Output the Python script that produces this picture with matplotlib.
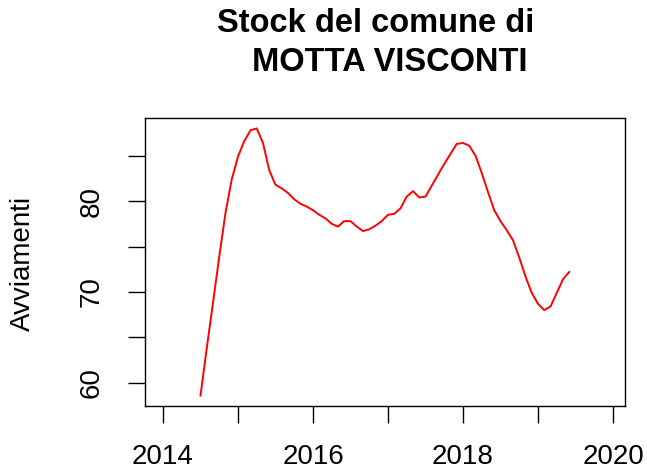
import numpy as np
from matplotlib import pyplot as plt

plt.rcParams['font.family'] = ['Liberation Sans', 'DejaVu Sans']

# monthly values, July 2014 -> June 2019
start_year = 2014.5
stock = [58.6, 63.8, 68.8, 73.9, 78.7, 82.4, 84.9, 86.6, 87.8, 88.0,
         86.4, 83.4, 81.8, 81.4, 80.9, 80.2, 79.7, 79.4, 79.0, 78.5,
         78.1, 77.5, 77.2, 77.8, 77.8, 77.2, 76.7, 76.9, 77.3, 77.8,
         78.5, 78.6, 79.2, 80.5, 81.1, 80.4, 80.5, 81.7, 82.9, 84.1,
         85.2, 86.3, 86.4, 86.1, 85.0, 83.1, 81.0, 79.0, 77.8, 76.8,
         75.7, 73.8, 71.7, 69.9, 68.7, 68.0, 68.4, 69.9, 71.4, 72.2]
years = start_year + np.arange(len(stock)) / 12

x_ticks = [2014, 2015, 2016, 2017, 2018, 2019, 2020]
x_labels = ['2014', '', '2016', '', '2018', '', '2020']
y_ticks = [60, 65, 70, 75, 80, 85]
y_labels = ['60', '', '70', '', '80', '']

fig = plt.figure(figsize=(6.47, 4.71), dpi=100)
ax = fig.add_axes([145 / 647, 1 - 406 / 471, 480 / 647, 288 / 471])

ax.plot(years, stock, color='red', lw=1.4)

ax.set_xlim(2013.76, 2020.16)
ax.set_ylim(57.45, 89.15)
ax.set_xticks(x_ticks)
ax.set_xticklabels(x_labels)
ax.set_yticks(y_ticks)
ax.set_yticklabels(y_labels, rotation=90, va='center')
ax.tick_params(axis='both', labelsize=20, length=12, width=1, pad=15,
               direction='out', colors='black')
ax.tick_params(axis='y', pad=17)
for s in ax.spines.values():
    s.set_linewidth(1)

fig.text(23 / 647, 0.5 + (471 / 2 - 263) / 471, 'Avviamenti', rotation=90,
         ha='center', va='center', fontsize=20)
fig.text(385 / 647, 1 - 8 / 471, 'Stock del comune di  \n MOTTA VISCONTI',
         ha='center', va='top', fontsize=23.5, fontweight='bold',
         multialignment='center', linespacing=1.32)

fig.savefig('out.png', dpi=100)
